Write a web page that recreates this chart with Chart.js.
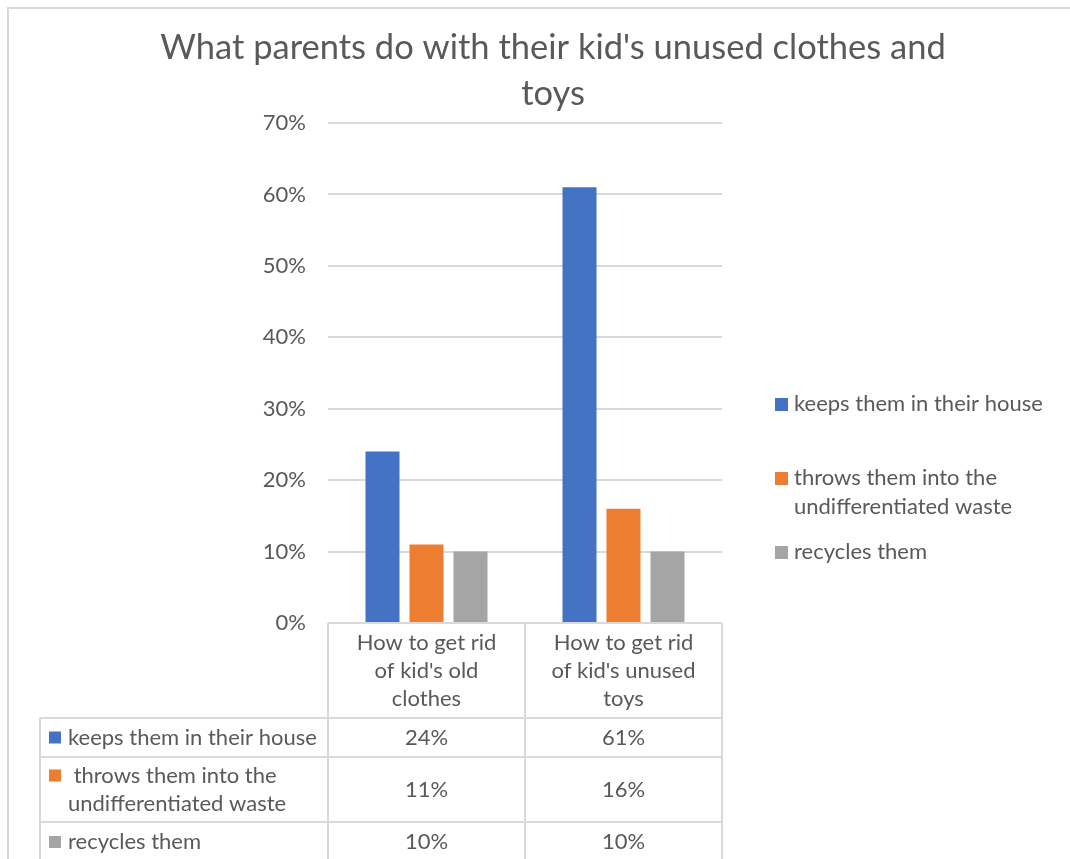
<!DOCTYPE html>
<html>
<head>
<meta charset="utf-8">
<script src="https://cdn.jsdelivr.net/npm/chart.js@4.4.1/dist/chart.umd.min.js"></script>
<style>
    html, body { margin: 0; padding: 0; background: #ffffff; }
    #chart { display: block; }
</style>
</head>
<body>
<canvas id="chart" width="1070" height="859"></canvas>
<script>
// Chart data
const titleLines = ['What parents do with their kid\'s unused clothes and', 'toys'];
const categories = [
    ['How to get rid', 'of kid\'s old', 'clothes'],
    ['How to get rid', 'of kid\'s unused', 'toys']
];
const seriesNames = ['keeps them in their house', 'throws them into the undifferentiated waste', 'recycles them'];
const keepsValues = [24, 61];
const throwsValues = [11, 16];
const recyclesValues = [10, 10];
const yTicks = [0, 10, 20, 30, 40, 50, 60, 70];

const colors = ['#4472C4', '#ED7D31', '#A5A5A5'];
const textColor = '#595959';
const lineColor = '#D9D9D9';
const fontFamily = 'Lato, "Noto Sans", sans-serif';

// Legend / table label lines (how Excel wrapped them)
const legendLines = [
    ['keeps them in their house'],
    ['throws them into the', 'undifferentiated waste'],
    ['recycles them']
];
const tableLabelLines = [
    ['keeps them in their house'],
    [' throws them into the', 'undifferentiated waste'],
    ['recycles them']
];

// Frame, title, right legend and data table
const excelExtras = {
    id: 'excelExtras',
    beforeDraw(chart) {
        const ctx = chart.ctx;
        ctx.save();
        ctx.strokeStyle = lineColor;
        ctx.lineWidth = 2;
        ctx.beginPath();
        ctx.moveTo(8, 870);
        ctx.lineTo(8, 8);
        ctx.lineTo(1080, 8);
        ctx.stroke();
        ctx.restore();
    },
    afterDraw(chart) {
        const ctx = chart.ctx;
        const area = chart.chartArea;
        const xs = chart.scales.x;
        const datasets = chart.data.datasets;
        ctx.save();

        // title
        ctx.fillStyle = textColor;
        ctx.font = '34.5px ' + fontFamily;
        ctx.textAlign = 'center';
        ctx.textBaseline = 'middle';
        titleLines.forEach((t, i) => ctx.fillText(t, 553, 48 + i * 46));

        // legend on the right
        ctx.font = '22px ' + fontFamily;
        ctx.textAlign = 'left';
        const legendY = [404, 478, 552];
        legendLines.forEach((lines, i) => {
            ctx.fillStyle = colors[i];
            ctx.fillRect(775, legendY[i] - 6, 13, 13);
            ctx.fillStyle = textColor;
            lines.forEach((l, j) => ctx.fillText(l, 794, legendY[i] + j * 29));
        });

        // data table
        const half = (xs.getPixelForValue(1) - xs.getPixelForValue(0)) / 2;
        const colEdges = [area.left];
        categories.forEach((c, i) => colEdges.push(xs.getPixelForValue(i) + half));
        const tableLeft = 40;
        const headerBottom = area.bottom + 95;
        const rowHeights = [39, 65, 40];
        const rowTops = [headerBottom];
        rowHeights.forEach((h, i) => rowTops.push(rowTops[i] + h));

        ctx.strokeStyle = lineColor;
        ctx.lineWidth = 2;
        ctx.beginPath();
        colEdges.forEach(x => { ctx.moveTo(x, area.bottom); ctx.lineTo(x, 870); });
        ctx.moveTo(tableLeft, headerBottom); ctx.lineTo(tableLeft, 870);
        rowTops.forEach(y => { ctx.moveTo(tableLeft, y); ctx.lineTo(area.right, y); });
        ctx.stroke();

        // header text
        ctx.fillStyle = textColor;
        ctx.textAlign = 'center';
        categories.forEach((lines, i) => {
            const cx = xs.getPixelForValue(i);
            lines.forEach((l, j) => ctx.fillText(l, cx, area.bottom + 20 + j * 28));
        });

        // rows
        datasets.forEach((ds, r) => {
            const top = rowTops[r];
            const mid = top + rowHeights[r] / 2;
            const lines = tableLabelLines[r];
            const firstY = mid - (lines.length - 1) * 28 / 2;
            ctx.fillStyle = colors[r];
            ctx.fillRect(49, firstY - 6, 12, 12);
            ctx.fillStyle = textColor;
            ctx.textAlign = 'left';
            lines.forEach((l, j) => ctx.fillText(l, 68, firstY + j * 28));
            ctx.textAlign = 'center';
            ds.data.forEach((v, i) => ctx.fillText(v + '%', xs.getPixelForValue(i), mid));
        });

        ctx.restore();
    }
};

new Chart(document.getElementById('chart'), {
    type: 'bar',
    data: {
        labels: categories,
        datasets: [
            { label: seriesNames[0], data: keepsValues, backgroundColor: colors[0] },
            { label: seriesNames[1], data: throwsValues, backgroundColor: colors[1] },
            { label: seriesNames[2], data: recyclesValues, backgroundColor: colors[2] }
        ]
    },
    options: {
        responsive: false,
        animation: false,
        layout: {
            padding: { left: 0, right: 348, top: 123, bottom: 236 }
        },
        datasets: {
            bar: { categoryPercentage: 0.67, barPercentage: 0.773 }
        },
        plugins: {
            legend: { display: false },
            title: { display: false },
            tooltip: { enabled: false }
        },
        scales: {
            x: { display: false },
            y: {
                min: 0,
                max: 70,
                afterBuildTicks: scale => { scale.ticks = yTicks.map(v => ({ value: v })); },
                afterFit: scale => { scale.width = 328; },
                border: { display: false },
                grid: { color: lineColor, lineWidth: 2, drawTicks: false },
                ticks: {
                    padding: 22,
                    color: textColor,
                    font: { family: fontFamily, size: 22 },
                    callback: v => v + '%'
                }
            }
        }
    },
    plugins: [excelExtras]
});
</script>
</body>
</html>
